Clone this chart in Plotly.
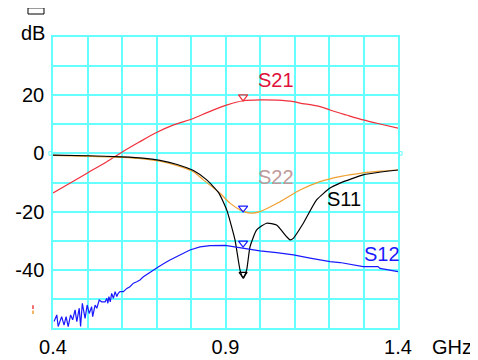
import plotly.graph_objects as go

# ---------------- data ----------------
x_ticks = [0.4, 0.5, 0.6, 0.7, 0.8, 0.9, 1.0, 1.1, 1.2, 1.3, 1.4]
x_ticktext = ["0.4", "", "", "", "", "0.9", "", "", "", "", "1.4"]
y_ticks = [-60, -50, -40, -30, -20, -10, 0, 10, 20, 30, 40]
y_ticktext = ["", "", "-40", "", "-20", "", "0", "", "20", "", ""]

s21_f = [0.40, 0.45, 0.50, 0.55, 0.594, 0.65, 0.70, 0.75, 0.807, 0.85, 0.903,
         0.952, 1.0, 1.05, 1.097, 1.116, 1.174, 1.203, 1.25, 1.299, 1.348, 1.4]
s21_db = [-13.6, -10.2, -6.7, -3.3, 0.0, 3.9, 7.2, 9.8, 12.0, 14.2, 16.6,
          18.1, 18.4, 18.3, 17.8, 17.3, 16.1, 14.9, 13.2, 11.5, 10.1, 8.7]

s11_f = [0.40, 0.50, 0.60, 0.66, 0.71, 0.76, 0.807, 0.8455, 0.88, 0.9035, 0.9275, 0.942,
         0.9516, 0.9614, 0.971, 0.9904, 1.019, 1.048, 1.077, 1.087, 1.0965,
         1.1255, 1.164, 1.203, 1.232, 1.299, 1.35, 1.4]
s11_db = [-0.6, -0.8, -1.2, -1.6, -2.4, -3.8, -5.9, -9.1, -13.5, -19.4, -29.7, -40.0,
          -42.9, -40.0, -32.1, -26.3, -24.0, -24.6, -28.6, -29.7, -29.2,
          -24.0, -16.0, -11.9, -10.2, -7.4, -6.4, -5.7]

s22_f = [0.40, 0.50, 0.60, 0.66, 0.71, 0.76, 0.807, 0.8357, 0.884, 0.913, 0.942, 0.971,
         1.0, 1.058, 1.116, 1.174, 1.235, 1.299, 1.35, 1.4]
s22_db = [-0.7, -1.0, -1.4, -1.9, -2.7, -4.2, -6.3, -9.1, -13.7, -17.1, -19.4, -20.5,
          -20.0, -16.6, -12.6, -9.7, -7.9, -6.7, -6.1, -5.7]

s12_f = [0.403, 0.411, 0.415, 0.425, 0.432, 0.438, 0.444, 0.451, 0.457, 0.464,
         0.469, 0.476, 0.480, 0.485, 0.493, 0.499, 0.505, 0.512, 0.515, 0.522,
         0.527, 0.534, 0.541, 0.551, 0.556, 0.559, 0.562, 0.566, 0.570, 0.575,
         0.580, 0.585, 0.589, 0.594, 0.604, 0.614, 0.623, 0.633, 0.643, 0.652,
         0.662, 0.676, 0.691, 0.705, 0.725, 0.739, 0.768, 0.797, 0.826, 0.855,
         0.899, 0.951, 1.0, 1.048, 1.097, 1.145, 1.174, 1.203, 1.232, 1.270,
         1.299, 1.342, 1.348, 1.4]
s12_db = [-57.8, -55.5, -59.5, -56.1, -59.0, -56.1, -59.5, -55.5, -57.2, -53.8,
          -57.8, -53.2, -59.5, -51.5, -56.7, -52.1, -55.0, -52.7, -56.1, -52.1,
          -53.2, -50.4, -51.0, -51.0, -49.8, -51.5, -49.2, -51.0, -48.1, -49.8,
          -47.5, -49.2, -48.1, -47.5, -47.5, -46.4, -45.8, -44.6, -44.1, -43.5,
          -42.4, -41.2, -40.1, -39.0, -37.6, -36.6, -34.9, -33.2, -32.1, -31.7,
          -31.6, -32.6, -33.5, -34.1, -34.9, -36.0, -36.6, -37.2, -37.5, -38.3,
          -38.9, -38.9, -39.5, -40.6]

marker_f = 0.951
marker_s21 = 19.4
marker_s22 = -18.8
marker_s12 = -30.8
marker_s11 = -41.5

labels = ["S21", "S22", "S11", "S12"]
label_f = [1.046, 1.046, 1.243, 1.354]
label_db = [25.2, -8.1, -15.7, -34.6]
label_colors = ["#e0103a", "#c09a9a", "#000000", "#1a1aff"]

FONT = "Arial, Liberation Sans, sans-serif"
GRID = "#66ffff"
FS = 20

fig = go.Figure()
fig.add_trace(go.Scatter(x=s21_f, y=s21_db, mode="lines",
                         line=dict(color="#f0303c", width=1.2, shape="spline", smoothing=0.8)))
fig.add_trace(go.Scatter(x=s22_f, y=s22_db, mode="lines",
                         line=dict(color="#f0a030", width=1.2, shape="spline", smoothing=0.8)))
fig.add_trace(go.Scatter(x=s11_f, y=s11_db, mode="lines",
                         line=dict(color="#000000", width=1.2, shape="spline", smoothing=0.5)))
fig.add_trace(go.Scatter(x=s12_f, y=s12_db, mode="lines",
                         line=dict(color="#1a1aff", width=1.2)))

# markers
fig.add_trace(go.Scatter(x=[marker_f], y=[marker_s21], mode="markers",
                         marker=dict(symbol="triangle-down-open", size=8,
                                     color="#f0303c", line=dict(width=1.2))))
fig.add_trace(go.Scatter(x=[marker_f, marker_f], y=[marker_s22, marker_s12], mode="markers",
                         marker=dict(symbol="triangle-down-open", size=8,
                                     color="#1a1aff", line=dict(width=1.2))))
fig.add_trace(go.Scatter(x=[marker_f], y=[marker_s11], mode="markers",
                         marker=dict(symbol="triangle-down-open", size=7,
                                     color="#000000", line=dict(width=1.2))))

for t, fx, fy, c in zip(labels, label_f, label_db, label_colors):
    fig.add_annotation(x=fx, y=fy, text=t, showarrow=False,
                       xanchor="center", yanchor="middle",
                       font=dict(family=FONT, size=FS, color=c))

fig.add_annotation(x=-0.0594, y=1.0137, xref="paper", yref="paper", text="dB",
                   xanchor="center", yanchor="middle", showarrow=False,
                   font=dict(family=FONT, size=FS, color="black"))
fig.add_annotation(x=1.1565, y=-0.0636, xref="paper", yref="paper", text="GHz",
                   xanchor="center", yanchor="middle", showarrow=False,
                   font=dict(family=FONT, size=FS, color="black"))

# decorations
fig.add_shape(type="rect", xref="paper", yref="paper",
              x0=-0.0725, x1=-0.0261, y0=1.079, y1=1.10,
              line=dict(color="black", width=1))
fig.add_shape(type="rect", xref="paper", y0=-0.6, y1=0.6,
              x0=-0.012, x1=-0.003, line=dict(color=GRID, width=1))
fig.add_shape(type="rect", xref="paper", y0=-0.6, y1=0.6,
              x0=1.003, x1=1.012, line=dict(color=GRID, width=1))
fig.add_shape(type="line", xref="paper", yref="paper",
              x0=-0.058, x1=-0.058, y0=0.078, y1=0.065,
              line=dict(color="#f04040", width=1.5))
fig.add_shape(type="line", xref="paper", yref="paper",
              x0=-0.058, x1=-0.058, y0=0.06, y1=0.048,
              line=dict(color="#f0a030", width=1.5))

fig.update_layout(
    width=470, height=352,
    margin=dict(l=45, r=80, t=29, b=32, autoexpand=False),
    paper_bgcolor="white", plot_bgcolor="white",
    showlegend=False,
    font=dict(family=FONT, size=FS, color="black"),
    xaxis=dict(range=[0.4, 1.4], tickvals=x_ticks, ticktext=x_ticktext,
               showgrid=True, gridcolor=GRID, gridwidth=1.5, automargin=False,
               showline=True, linecolor=GRID, linewidth=1.5, mirror=True,
               zeroline=False, ticks="", ticklabelstandoff=0),
    yaxis=dict(range=[-60, 40], tickvals=y_ticks, ticktext=y_ticktext,
               showgrid=True, gridcolor=GRID, gridwidth=1.5, automargin=False,
               showline=True, linecolor=GRID, linewidth=1.5, mirror=True,
               zeroline=False, ticks="", ticklabelstandoff=3),
)

fig.write_html("out.html")
